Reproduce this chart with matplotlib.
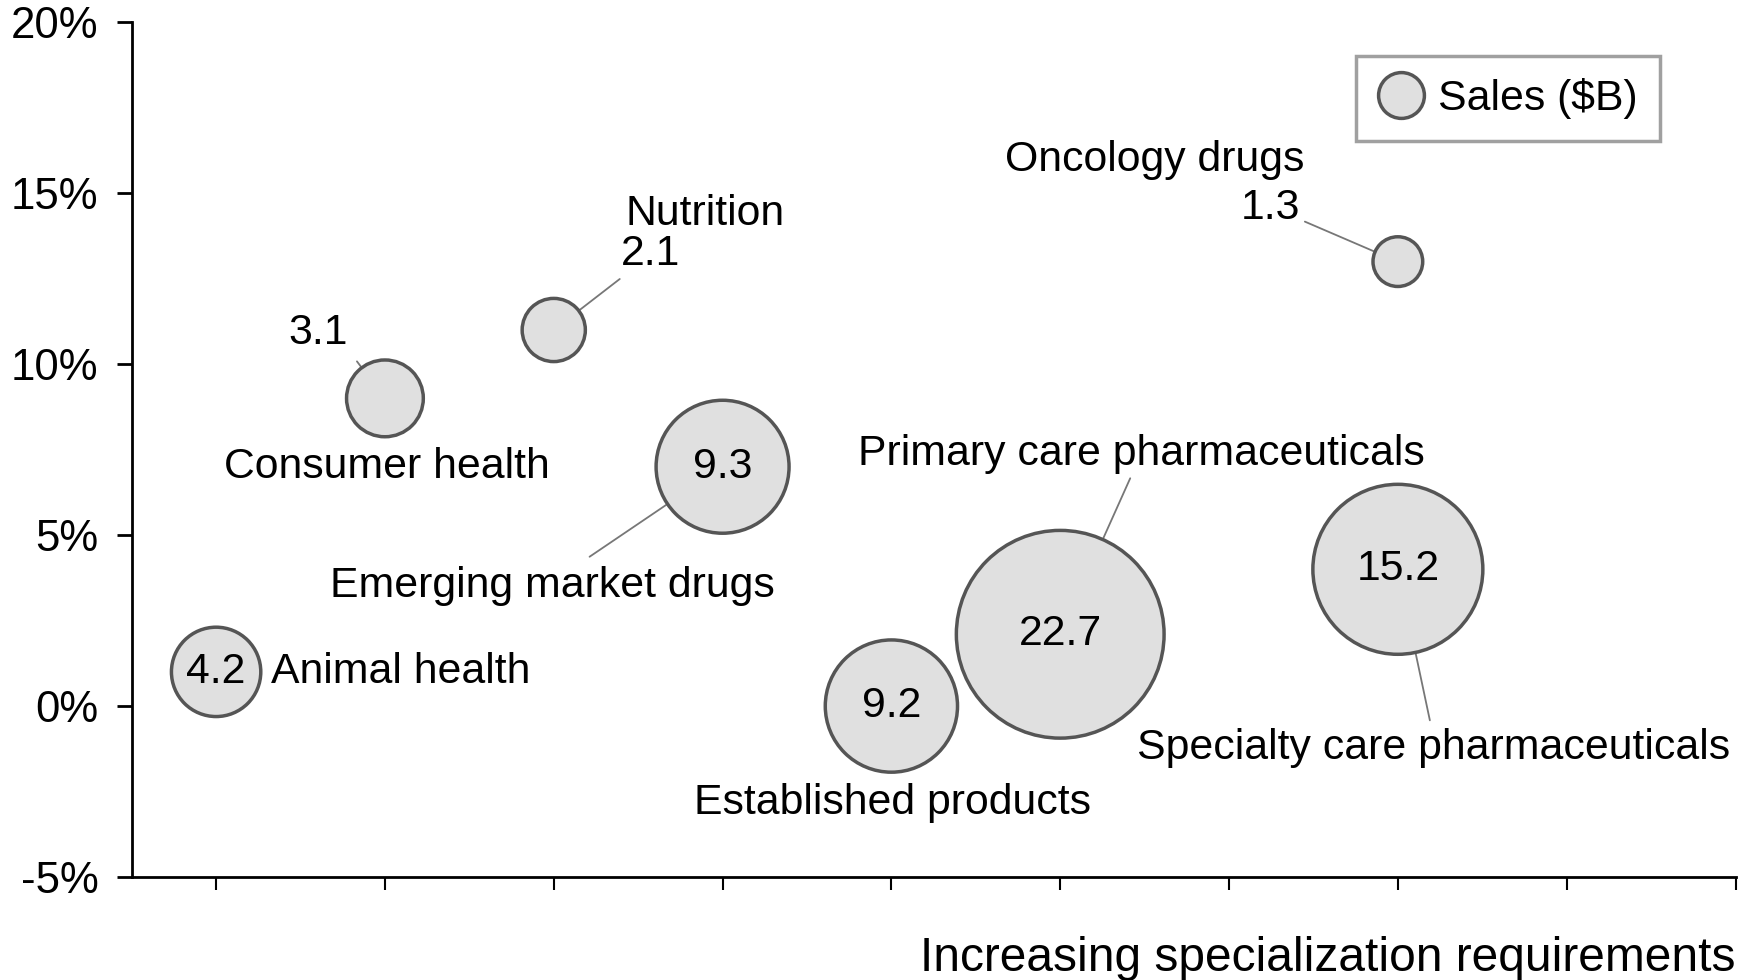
import matplotlib
matplotlib.use("Agg")
import matplotlib.pyplot as plt
from matplotlib.lines import Line2D
import numpy as np

plt.rcParams['font.family'] = ['Liberation Sans', 'DejaVu Sans']

# ---- data ----
segments = ["Animal health", "Consumer health", "Nutrition", "Emerging market drugs",
            "Established products", "Primary care pharmaceuticals",
            "Specialty care pharmaceuticals", "Oncology drugs"]
specialization = [1, 2, 3, 4, 5, 6, 8, 8]
growth = [1, 9, 11, 7, 0, 2.1, 4, 13]
sales = [4.2, 3.1, 2.1, 9.3, 9.2, 22.7, 15.2, 1.3]
yticks = [-5, 0, 5, 10, 15, 20]
ytick_labels = ["-5%", "0%", "5%", "10%", "15%", "20%"]
xticks = [1, 2, 3, 4, 5, 6, 7, 8, 9, 10]

# ---- layout (pixel offsets from bubble centre) ----
value_pos = ['in', (-67, 65), (97, 76), 'in', 'in', 'in', 'in', (-127, 54)]
name_pos = [(55, 0, 'left'), (2, -69, 'center'), (151, 116, 'center'), (-170, -119, 'center'),
            (1, -97, 'center'), (81, 180, 'center'), (36, -179, 'center'), (-243, 102, 'center')]
line_start = [None, (-28, 37), (66, 51), (-133, -90), None, (70, 156), (32, -151), (-93, 40)]

FS = 30.8
W, H, DPI = 17.5, 9.8, 100
fig = plt.figure(figsize=(W, H), dpi=DPI)
ax = fig.add_axes([131.7 / 1750, 1 - 877 / 980, (1735.5 - 131.7) / 1750, (877 - 22.3) / 980])

k_px = 21.8  # bubble radius (px) per sqrt(sales)
sizes = [(2 * k_px * np.sqrt(v) * 72 / DPI) ** 2 for v in sales]
ax.scatter(specialization, growth, s=sizes, facecolor='#e0e0e0', edgecolor='#555555',
           linewidth=2.5, zorder=3)

for i, name in enumerate(segments):
    x, y, v = specialization[i], growth[i], sales[i]
    r_pt = k_px * np.sqrt(v) * 72 / DPI
    if value_pos[i] == 'in':
        ax.annotate(f"{v}", (x, y), ha='center', va='center', fontsize=FS, zorder=5)
    else:
        ax.annotate(f"{v}", (x, y), xytext=value_pos[i], textcoords='offset pixels',
                    ha='center', va='center', fontsize=FS, zorder=5)
    dx, dy, ha = name_pos[i]
    ax.annotate(name, (x, y), xytext=(dx, dy), textcoords='offset pixels',
                ha=ha, va='center', fontsize=FS, zorder=5)
    if line_start[i] is not None:
        ax.annotate('', (x, y), xytext=line_start[i], textcoords='offset pixels',
                    arrowprops=dict(arrowstyle='-', color='#777777', lw=1.3,
                                    shrinkA=0, shrinkB=r_pt + 1), zorder=2)

ax.set_xlim(0.5, 10)
ax.set_ylim(-5, 20)
ax.set_xticks(xticks)
ax.set_xticklabels([])
ax.set_yticks(yticks)
ax.set_yticklabels(ytick_labels, fontsize=31.5)
ax.tick_params(axis='y', length=11, width=2, pad=13, direction='out')
ax.tick_params(axis='x', length=9, width=1.5, direction='out')
for s in ['top', 'right']:
    ax.spines[s].set_visible(False)
for s in ['left', 'bottom']:
    ax.spines[s].set_linewidth(2)
    ax.spines[s].set_color('black')

ax.set_xlabel("Increasing specialization requirements", fontsize=34.5, loc='right', labelpad=30)

handle = Line2D([], [], marker='o', linestyle='none', markersize=33,
                markerfacecolor='#e0e0e0', markeredgecolor='#555555', markeredgewidth=2.5)
leg = fig.legend([handle], ["Sales ($B)"], loc='upper right',
                 bbox_to_anchor=(1660 / 1750, 1 - 56 / 980), fontsize=FS, frameon=True,
                 fancybox=False, borderpad=0.52, handletextpad=0.35, handlelength=1.05,
                 borderaxespad=0)
leg.get_frame().set_edgecolor('#888888')
leg.get_frame().set_linewidth(2.5)

fig.savefig("out.png", dpi=DPI)
